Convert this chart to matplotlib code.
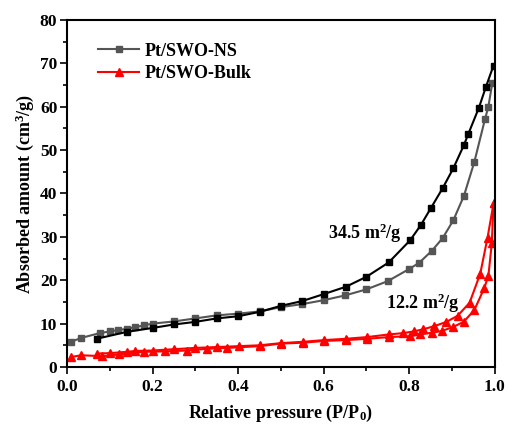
import matplotlib
matplotlib.use('Agg')
import matplotlib.pyplot as plt
from matplotlib.ticker import MultipleLocator

plt.rcParams['font.family'] = 'Liberation Serif'
plt.rcParams['font.weight'] = 'bold'
plt.rcParams['mathtext.fontset'] = 'custom'
plt.rcParams['mathtext.rm'] = 'Liberation Serif:bold'
plt.rcParams['mathtext.it'] = 'Liberation Serif:bold'
plt.rcParams['mathtext.bf'] = 'Liberation Serif:bold'

# Pt/SWO-NS adsorption branch
ns_ads_p = [0.009, 0.033, 0.076, 0.100, 0.118, 0.140, 0.160, 0.180, 0.200, 0.250, 0.300, 0.350,
            0.400, 0.450, 0.500, 0.550, 0.600, 0.650, 0.700, 0.750, 0.800, 0.823, 0.853, 0.878,
            0.903, 0.928, 0.952, 0.977, 0.985, 0.994]
ns_ads_v = [5.8, 6.7, 7.8, 8.2, 8.5, 8.8, 9.2, 9.6, 10.0, 10.5, 11.2, 11.9,
            12.3, 12.8, 13.8, 14.5, 15.4, 16.5, 17.9, 19.8, 22.6, 24.0, 26.8, 29.7,
            33.8, 39.5, 47.2, 57.1, 60.0, 65.4]
# Pt/SWO-NS desorption branch
ns_des_p = [0.997, 0.979, 0.963, 0.938, 0.928, 0.903, 0.878, 0.851, 0.827, 0.802, 0.752, 0.700,
            0.652, 0.600, 0.550, 0.500, 0.450, 0.400, 0.350, 0.300, 0.250, 0.200, 0.140, 0.069]
ns_des_v = [69.5, 64.5, 59.8, 53.7, 51.2, 45.8, 41.2, 36.7, 32.7, 29.2, 24.1, 20.8,
            18.5, 16.8, 15.2, 14.1, 12.7, 11.7, 11.2, 10.4, 9.8, 9.0, 8.1, 6.5]
# Pt/SWO-Bulk adsorption branch
bulk_ads_p = [0.009, 0.033, 0.082, 0.121, 0.179, 0.230, 0.280, 0.327, 0.374, 0.450, 0.500, 0.551,
              0.601, 0.652, 0.702, 0.752, 0.802, 0.824, 0.853, 0.876, 0.902, 0.927, 0.952, 0.975,
              0.985, 0.993, 0.997]
bulk_ads_v = [2.3, 2.7, 2.5, 2.9, 3.5, 3.6, 3.8, 4.2, 4.4, 4.8, 5.4, 5.6,
              6.0, 6.2, 6.5, 6.9, 7.1, 7.5, 7.9, 8.3, 9.2, 10.4, 13.1, 18.1,
              21.0, 28.5, 37.7]
# Pt/SWO-Bulk desorption branch
bulk_des_p = [0.997, 0.983, 0.966, 0.941, 0.913, 0.887, 0.858, 0.833, 0.810, 0.785, 0.752, 0.702,
              0.652, 0.601, 0.551, 0.500, 0.450, 0.401, 0.350, 0.300, 0.249, 0.200, 0.160, 0.140,
              0.101, 0.070]
bulk_des_v = [37.7, 29.8, 21.5, 14.8, 11.8, 10.4, 9.4, 8.7, 8.2, 7.8, 7.5, 6.9,
              6.5, 6.2, 5.8, 5.5, 5.0, 4.8, 4.6, 4.4, 4.1, 3.8, 3.7, 3.5,
              3.2, 3.1]

fig = plt.figure(figsize=(5.08, 4.25), dpi=100)
ax = fig.add_axes([0.132, 0.1365, 0.842, 0.8165])

ax.plot(ns_ads_p, ns_ads_v, color='#555555', marker='s', markersize=5, lw=1.5, label='Pt/SWO-NS')
ax.plot(ns_des_p, ns_des_v, color='black', marker='s', markersize=5, lw=1.5)
ax.plot(bulk_ads_p, bulk_ads_v, color='red', marker='^', markersize=6, lw=1.5, label='Pt/SWO-Bulk')
ax.plot(bulk_des_p, bulk_des_v, color='red', marker='^', markersize=6, lw=1.5)

ax.set_xlim(0, 1.0)
ax.set_ylim(0, 80)
ax.xaxis.set_major_locator(MultipleLocator(0.2))
ax.xaxis.set_minor_locator(MultipleLocator(0.1))
ax.yaxis.set_major_locator(MultipleLocator(10))
ax.yaxis.set_minor_locator(MultipleLocator(5))
ax.tick_params(which='both', direction='out', width=1.2, labelsize=12.5)
ax.tick_params(which='major', length=5)
ax.tick_params(which='minor', length=3)
ax.tick_params(axis='y', pad=2)
ax.xaxis.set_major_formatter(matplotlib.ticker.FormatStrFormatter('%.1f'))
for s in ax.spines.values():
    s.set_linewidth(1.5)

ax.set_xlabel('Relative pressure (P/P$_0$)', fontsize=13, fontweight='bold', labelpad=6)
ax.set_ylabel('Absorbed amount (cm$^3$/g)', fontsize=13, fontweight='bold', labelpad=3)

ax.text(0.61, 29.5, '34.5 m$^2$/g', fontsize=13, fontweight='bold')
ax.text(0.745, 13.3, '12.2 m$^2$/g', fontsize=13, fontweight='bold')

ax.legend(loc='upper left', frameon=False, fontsize=13, handlelength=2.3,
          handletextpad=0.3, labelspacing=0.3, borderaxespad=0.0,
          bbox_to_anchor=(0.055, 0.955))

plt.savefig('out.png', dpi=100)
